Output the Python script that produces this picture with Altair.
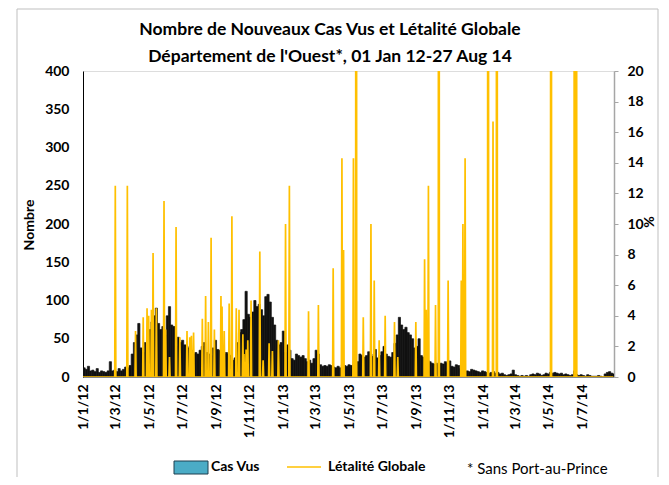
import altair as alt
import pandas as pd

# ---------------- data ----------------
START = "2012-01-01"
END = "2014-08-27"
BIN_DAYS = 4

# New cases seen, one value per 4-day period starting 1 Jan 2012
cases = [
    12, 10, 14, 8, 9, 7, 11, 6, 8, 7,
    6, 8, 20, 8, 9, 7, 11, 8, 10, 13,
    12, 15, 30, 45, 55, 70, 38, 32, 45, 55,
    62, 72, 80, 90, 70, 62, 66, 55, 80, 92,
    68, 66, 40, 52, 45, 48, 42, 40, 38, 35,
    30, 32, 30, 35, 40, 45, 32, 30, 28, 38,
    48, 36, 35, 38, 30, 32, 30, 28, 22, 25,
    45, 58, 62, 75, 112, 82, 78, 85, 100, 92,
    95, 88, 80, 105, 108, 98, 78, 68, 48, 42,
    45, 60, 32, 42, 35, 24, 22, 30, 28, 26,
    28, 24, 20, 22, 18, 24, 35, 30, 16, 14,
    15, 14, 16, 15, 13, 12, 14, 12, 16, 15,
    14, 16, 15, 16, 18, 20, 30, 28, 26, 28,
    33, 30, 27, 36, 25, 28, 33, 40, 30, 27,
    26, 32, 44, 55, 78, 68, 62, 65, 58, 55,
    50, 38, 40, 50, 28, 26, 28, 22, 20, 18,
    17, 18, 16, 18, 17, 20, 18, 21, 14, 13,
    16, 15, 11, 9, 7, 8, 7, 10, 9, 8,
    7, 6, 8, 7, 6, 5, 6, 7, 5, 6,
    4, 5, 3, 2, 3, 4, 9, 3, 2, 1,
    2, 1, 2, 1, 3, 4, 3, 5, 4, 2,
    3, 5, 4, 6, 5, 6, 5, 4, 5, 3,
    4, 3, 2, 3, 8, 3, 2, 3, 2, 1,
    3, 2, 1, 1, 1, 2, 1, 0, 4, 6,
    7, 5, 4,
]

# Overall lethality (%): non-zero days (days since 1 Jan 2012) and values
leth_days = [
    59, 81, 96, 110, 117, 120, 125, 128, 134, 148,
    151, 158, 170, 177, 190, 195, 198, 202, 218, 224,
    229, 234, 240, 252, 254, 258, 267, 272, 280, 285,
    292, 294, 298, 301, 307, 323, 329, 340, 346, 357,
    370, 377, 412, 430, 457, 473, 476, 494, 499, 512,
    526, 532, 541, 552, 569, 575, 608, 624, 627, 631,
    644, 650, 667, 691, 694, 698, 740, 749, 756, 855,
    898, 901,
]
leth_values = [
    12.5, 12.5, 3.0, 3.9, 4.5, 4.0, 4.4, 8.1, 4.5, 11.5,
    3.1, 1.3, 9.8, 2.6, 3.0, 2.6, 2.7, 2.9, 3.8, 5.3,
    3.6, 9.1, 3.1, 5.3, 4.6, 3.0, 4.8, 10.5, 4.5, 4.4,
    2.8, 1.5, 1.8, 2.4, 5.0, 8.2, 1.1, 2.2, 1.7, 2.4,
    10.0, 12.5, 4.3, 4.7, 7.1, 14.3, 8.3, 14.3, 100.0, 3.9,
    10.0, 6.3, 2.4, 4.0, 3.6, 1.3, 3.6, 7.7, 4.4, 12.5,
    4.7, 100.0, 6.3, 6.3, 10.0, 14.3, 100.0, 16.7, 100.0, 100.0,
    100.0, 100.0,
]

title_lines = [
    "Nombre de Nouveaux Cas Vus et Létalité Globale",
    "Département de l'Ouest*, 01 Jan 12-27 Aug 14",
]

# ---------------- tables ----------------
t0 = pd.Timestamp(START)
t_end = pd.Timestamp(END)
n_days = (t_end - t0).days + 1

bars = pd.DataFrame({
    "d0": [(t0 + pd.Timedelta(days=BIN_DAYS * i)).strftime("%Y-%m-%d") for i in range(len(cases))],
    "d1": [(t0 + pd.Timedelta(days=BIN_DAYS * (i + 1))).strftime("%Y-%m-%d") for i in range(len(cases))],
    "cases": cases,
})

leth_map = dict(zip(leth_days, leth_values))
line = pd.DataFrame({
    "date": [(t0 + pd.Timedelta(days=i)).strftime("%Y-%m-%d") for i in range(n_days)],
    "leth": [leth_map.get(i, 0.0) for i in range(n_days)],
})

FONT = "Lato"
W, H = 531, 306

x_domain = [alt.DateTime(year=2012, month=1, date=1, utc=True),
            alt.DateTime(year=2014, month=8, date=28, utc=True)]
tick_vals = []
for y in (2012, 2013, 2014):
    for m in (1, 3, 5, 7, 9, 11):
        if y == 2014 and m > 7:
            continue
        tick_vals.append(alt.DateTime(year=y, month=m, date=1, utc=True))

x_scale = alt.Scale(type="utc", domain=x_domain)
x_axis = alt.Axis(values=tick_vals, labelExpr="utcFormat(datum.value, '%-d/%-m/%y')",
                  labelAngle=270, labelFont=FONT, labelFontSize=14, labelFontWeight="bold",
                  labelColor="black", labelPadding=7, ticks=False, domain=True,
                  domainColor="#888888", title=None, grid=False, labelOverlap=False,
                  labelBound=False, labelFlush=False)

bar_layer = alt.Chart(bars).mark_bar(color="#111111", stroke="#111111", strokeWidth=0.7,
                                     clip=True).encode(
    x=alt.X("d0:T", scale=x_scale, axis=x_axis),
    x2="d1:T",
    y=alt.Y("cases:Q", scale=alt.Scale(domain=[0, 400]),
            axis=alt.Axis(values=list(range(0, 401, 50)), orient="left", title=None,
                          labelFont=FONT, labelFontSize=14, labelFontWeight="bold",
                          labelColor="black", ticks=False, domainColor="black",
                          labelPadding=14, grid=False)),
    y2=alt.datum(0),
)

line_layer = alt.Chart(line).mark_line(color="#FFC000", strokeWidth=1.7, clip=True).encode(
    x=alt.X("date:T", scale=x_scale, axis=x_axis),
    y=alt.Y("leth:Q", scale=alt.Scale(domain=[0, 20]),
            axis=alt.Axis(values=list(range(0, 21, 2)), orient="right", title=None,
                          labelFont=FONT, labelFontSize=14, labelFontWeight="bold",
                          labelColor="black", ticks=True, tickSize=4, tickColor="#A6A6A6",
                          domainColor="#A6A6A6", domainWidth=1.5, labelPadding=9, grid=False)),
)

one = alt.Data(values=[{"k": 1}])


def text(t, x, y, size=14, weight="bold", angle=0, align="center", baseline="middle"):
    return alt.Chart(one).mark_text(
        text=t, font=FONT, fontSize=size, fontWeight=weight, angle=angle,
        align=align, baseline=baseline, color="black",
    ).encode(x=alt.value(x), y=alt.value(y))


annot = [
    text(title_lines[0], 247, -41, size=17.5),
    text(title_lines[1], 247, -14, size=17.5),
    text("Nombre", -53, 154, size=14, angle=270),
    text("%", 565, 151, size=14, angle=90),
    text("Cas Vus", 128, 396, size=14, align="left"),
    text("Létalité Globale", 245, 396, size=14, align="left"),
    text("* Sans Port-au-Prince", 384, 398, size=15, weight="normal", align="left"),
]

legend_rect = alt.Chart(one).mark_rect(fill="#4BACC6", stroke="#1F3F4F", strokeWidth=1).encode(
    x=alt.value(91), x2=alt.value(125), y=alt.value(390), y2=alt.value(403))
legend_line = alt.Chart(one).mark_rule(color="#FFC000", strokeWidth=1.5).encode(
    x=alt.value(204), x2=alt.value(238), y=alt.value(396))
frame = alt.Chart(one).mark_rect(fill=None, stroke="#BFBFBF", strokeWidth=1).encode(
    x=alt.value(-66), x2=alt.value(575), y=alt.value(-62), y2=alt.value(420))
left_line = alt.Chart(one).mark_rule(color="#BFBFBF", strokeWidth=1).encode(
    x=alt.value(-78), y=alt.value(-70), y2=alt.value(420))

chart = alt.layer(
    frame, left_line, bar_layer, line_layer, legend_rect, legend_line, *annot
).resolve_scale(y="independent").properties(
    width=W, height=H,
    autosize=alt.AutoSizeParams(type="none"),
    padding={"left": 75, "top": 63, "right": 47, "bottom": 100},
).configure_view(stroke=None).configure(background="white")

chart.save("out.html", embed_options={"renderer": "svg", "actions": False})
